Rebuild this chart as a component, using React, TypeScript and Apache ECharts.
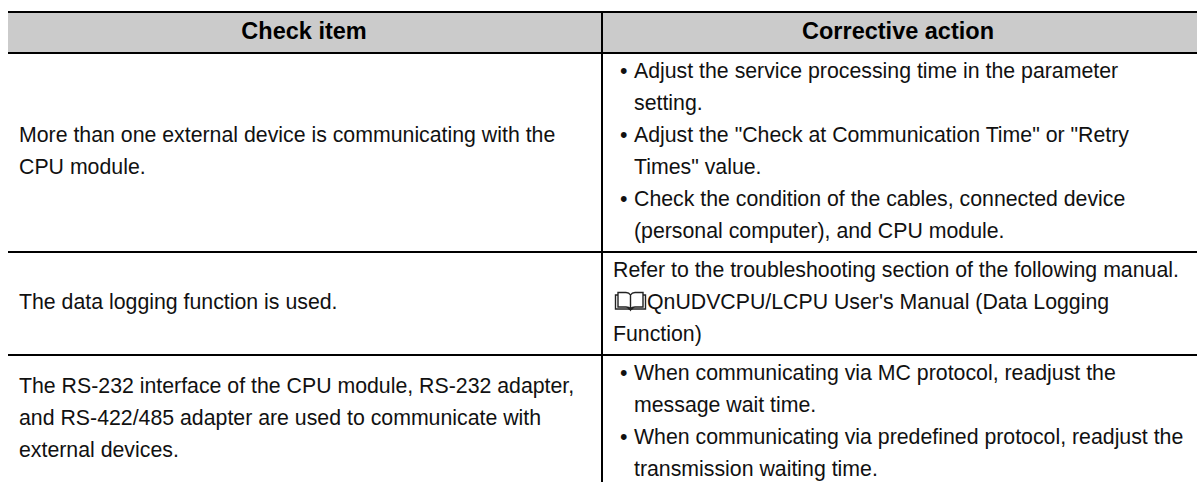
import React, { useEffect, useRef } from "react";
import * as echarts from "echarts";

const headers = ["Check item", "Corrective action"];
const leftLines = [
  "More than one external device is communicating with the",
  "CPU module.",
  "The data logging function is used.",
  "The RS-232 interface of the CPU module, RS-232 adapter,",
  "and RS-422/485 adapter are used to communicate with",
  "external devices.",
];
const leftY = [135, 167, 302, 386, 418, 450];
const rightBullets = [
  "Adjust the service processing time in the parameter",
  "setting.",
  "Adjust the \"Check at Communication Time\" or \"Retry",
  "Times\" value.",
  "Check the condition of the cables, connected device",
  "(personal computer), and CPU module.",
  "When communicating via MC protocol, readjust the",
  "message wait time.",
  "When communicating via predefined protocol, readjust the",
  "transmission waiting time.",
];
const rightBulletY = [71, 103, 135, 167, 199, 231, 373, 405, 437, 469];
const bulletStarts = [true, false, true, false, true, false, true, false, true, false];
const referLines = [
  "Refer to the troubleshooting section of the following manual.",
  "QnUDVCPU/LCPU User's Manual (Data Logging",
  "Function)",
];
const referY = [270, 302, 334];
const referX = [613, 647, 613];
const ruleY = [12, 53, 252, 355];

const bookPath =
  "M3 3 L0.5 3 L0.5 17 L13 17 Q15 17 15.5 18 Q16 17 18 17 L30.5 17 L30.5 3 L28 3 M3 0.5 L3 15 L11 15 Q14 15 15.5 17 Q17 15 20 15 L28 15 L28 0.5 L20 0.5 Q17 0.5 15.5 3 Q14 0.5 11 0.5 Z M15.5 3 L15.5 17";
echarts.graphic.registerShape("bookIcon", echarts.graphic.extendPath(bookPath, {}) as any);

const FONT = "'Liberation Sans', Arial, sans-serif";

export default function App() {
  const ref = useRef<HTMLDivElement>(null);
  useEffect(() => {
    const chart = echarts.init(ref.current!, null, { renderer: "svg" });
    const text = (s: string, x: number, y: number, extra: any = {}) => ({
      type: "text",
      x,
      y,
      silent: true,
      style: {
        text: s,
        fill: "#111",
        font: `21.3px ${FONT}`,
        verticalAlign: "middle",
        align: "left",
        ...extra,
      },
    });
    const elements: any[] = [
      { type: "rect", shape: { x: 8, y: 12, width: 1189, height: 41 }, style: { fill: "#cbcbcb" } },
      ...ruleY.map((y) => ({
        type: "rect",
        shape: { x: 8, y: y - 1, width: 1189, height: 2 },
        style: { fill: "#000" },
      })),
      { type: "rect", shape: { x: 601, y: 12, width: 2, height: 470 }, style: { fill: "#000" } },
      text(headers[0], 304, 31, { font: `bold 23.5px ${FONT}`, align: "center", fill: "#000" }),
      text(headers[1], 898, 31, { font: `bold 23.5px ${FONT}`, align: "center", fill: "#000" }),
      ...leftLines.map((s, i) => text(s, 19, leftY[i])),
      ...rightBullets.map((s, i) => text(s, 634, rightBulletY[i])),
      ...rightBullets.flatMap((_, i) =>
        bulletStarts[i] ? [text("•", 620, rightBulletY[i])] : []
      ),
      ...referLines.map((s, i) => text(s, referX[i], referY[i])),
      {
        type: "bookIcon",
        x: 615,
        y: 292,
        style: { fill: "none", stroke: "#222", lineWidth: 1.4 },
      },
    ];
    chart.setOption({ animation: false, graphic: { elements } });
    return () => chart.dispose();
  }, []);
  return <div ref={ref} style={{ position: "fixed", left: 0, top: 0, width: 1197, height: 482, background: "#fff" }} />;
}
